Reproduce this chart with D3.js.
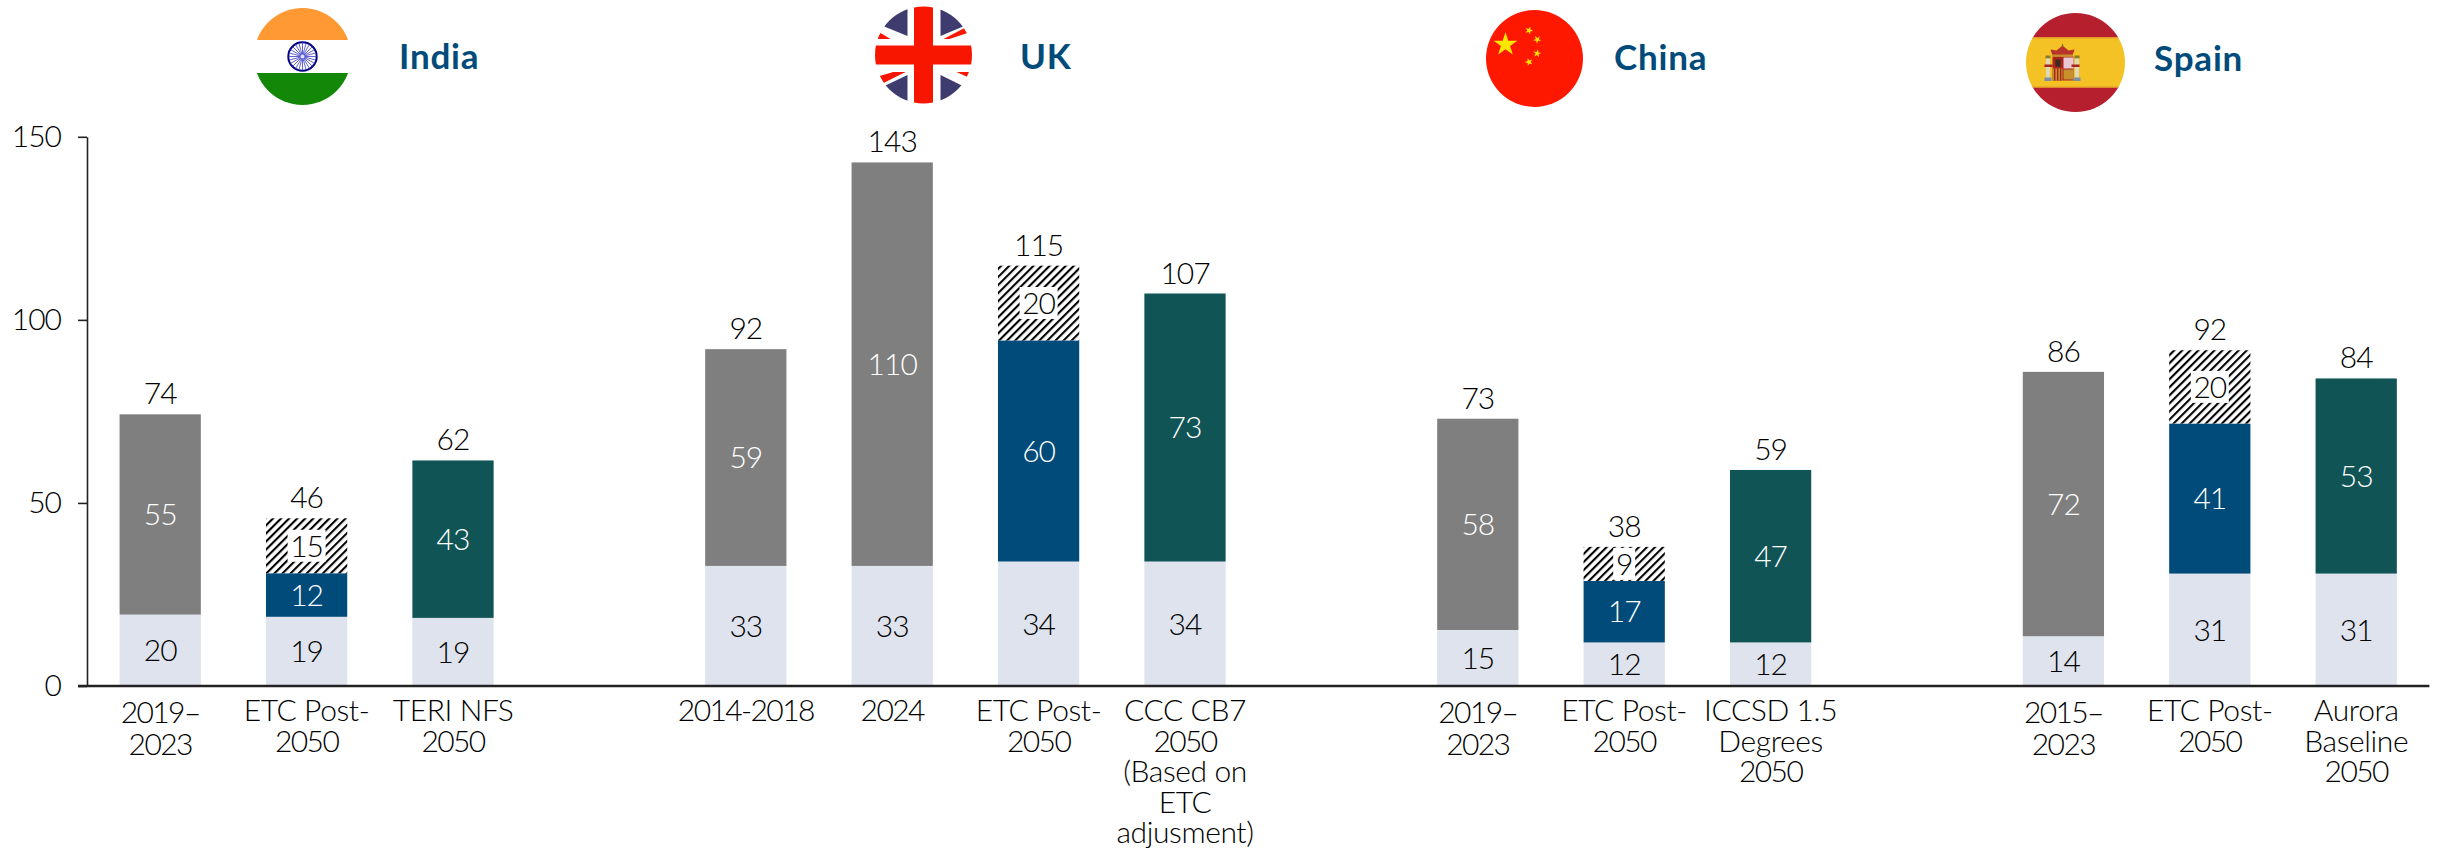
<!DOCTYPE html>
<html><head><meta charset="utf-8">
<script src="https://cdn.jsdelivr.net/npm/d3@7"></script>
<style>
html,body{margin:0;padding:0;background:#fff;overflow:hidden}
text{font-family:Lato,"Open Sans",sans-serif;font-weight:300}
</style></head><body><svg id="c" width="2446" height="851"></svg>
<script>
// ---- data ----
const slots = ["IN1","IN2","IN3","gapA","UK1","UK2","UK3","UK4","gapB","CN1","CN2","CN3","gapC","ES1","ES2","ES3"];
const categoryKeys = ["IN1","IN2","IN3","UK1","UK2","UK3","UK4","CN1","CN2","CN3","ES1","ES2","ES3"];
const categoryLabels = [["2019–","2023"],["ETC Post-","2050"],["TERI NFS","2050"],["2014-2018"],["2024"],["ETC Post-","2050"],["CCC CB7","2050","(Based on","ETC","adjusment)"],["2019–","2023"],["ETC Post-","2050"],["ICCSD 1.5","Degrees","2050"],["2015–","2023"],["ETC Post-","2050"],["Aurora","Baseline","2050"]];
const baseline   = [19.5,18.9,18.6,32.8,32.8,34.0,34.0,15.3,11.9,11.9,13.6,30.7,30.7];
const historic   = [54.7,0,0,59.2,110.2,0,0,57.7,0,0,72.2,0,0];
const etcCentral = [0,11.9,0,0,0,60.4,0,0,16.8,0,0,41.0,0];
const otherScen  = [0,0,43.0,0,0,0,73.2,0,0,47.1,0,0,53.3];
const etcUpper   = [0,15.0,0,0,0,20.4,0,0,9.3,0,0,20.0,0];
const yTicks = [0,50,100,150];
const countries = ["India","UK","China","Spain"];

const seriesKeys = ["baseline","historic","etcCentral","otherScen","etcUpper"];
const seriesCol = {baseline:"#DEE3EE",historic:"#7F7F7F",etcCentral:"#004B7A",otherScen:"#105456",etcUpper:"url(#hatch)"};
const labelCol = {baseline:"#000",historic:"#fff",etcCentral:"#fff",otherScen:"#fff",etcUpper:"#000"};
const rows = categoryKeys.map((k,i)=>({key:k,baseline:baseline[i],historic:historic[i],etcCentral:etcCentral[i],otherScen:otherScen[i],etcUpper:etcUpper[i]}));

const svg = d3.select("#c");
const defs = svg.append("defs");
const pat = defs.append("pattern").attr("id","hatch").attr("patternUnits","userSpaceOnUse")
  .attr("width",5.7).attr("height",5.7).attr("patternTransform","rotate(45)");
pat.append("rect").attr("width",5.7).attr("height",5.7).attr("fill","#fff");
pat.append("rect").attr("width",2.1).attr("height",5.7).attr("fill","#000");

const x = d3.scaleBand().domain(slots).range([87,2429.4]).paddingInner(0.445).paddingOuter(0.2225);
const y = d3.scaleLinear().domain([0,150]).range([686,136.8]);
const fs = 30;
const fmt = d3.format(".0f");

const stacked = d3.stack().keys(seriesKeys)(rows);
const gBars = svg.append("g");
stacked.forEach(s=>{
  gBars.selectAll(null).data(s.filter(d=>d[1]-d[0]>0)).join("rect")
    .attr("x",d=>x(d.data.key)).attr("width",x.bandwidth())
    .attr("y",d=>y(d[1])).attr("height",d=>y(d[0])-y(d[1]))
    .attr("fill",seriesCol[s.key]);
});
// value labels
stacked.forEach(s=>{
  const g = svg.append("g");
  const dd = s.filter(d=>d[1]-d[0]>0);
  if(s.key==="etcUpper"){
    g.selectAll("rect").data(dd).join("rect")
      .attr("width",d=>fmt(d[1]-d[0]).length*16+6)
      .attr("x",d=>x(d.data.key)+x.bandwidth()/2-(fmt(d[1]-d[0]).length*16+6)/2)
      .attr("y",d=>y((d[0]+d[1])/2)-16).attr("height",32).attr("fill","#fff");
  }
  g.selectAll("text").data(dd).join("text")
    .attr("x",d=>x(d.data.key)+x.bandwidth()/2).attr("y",d=>y((d[0]+d[1])/2))
    .attr("dy","0.36em").attr("text-anchor","middle").attr("font-size",fs).attr("fill",labelCol[s.key])
    .attr("letter-spacing",-1).text(d=>fmt(d[1]-d[0]));
});
// totals
const topSeries = stacked[stacked.length-1];
svg.append("g").selectAll("text").data(topSeries).join("text")
  .attr("x",d=>x(d.data.key)+x.bandwidth()/2).attr("y",d=>y(d[1])-10)
  .attr("text-anchor","middle").attr("font-size",fs).attr("fill","#000")
  .attr("letter-spacing",-1).text(d=>fmt(d[1]));

// axes
const yAxis = d3.axisLeft(y).tickValues(yTicks).tickSize(9).tickPadding(17).tickSizeOuter(0);
const gy = svg.append("g").attr("transform","translate(87,0)").call(yAxis);
gy.attr("font-family",null);
gy.selectAll("text").attr("font-size",fs).attr("fill","#000").attr("letter-spacing",-1);
gy.selectAll("path,line").attr("stroke","#222").attr("stroke-width",1.6);

const labelByKey = new Map(categoryKeys.map((k,i)=>[k,categoryLabels[i]]));
const xAxis = d3.axisBottom(x).tickValues(categoryKeys).tickSize(0).tickPadding(0).tickFormat("");
const gx = svg.append("g").attr("transform","translate(0,686)").call(xAxis);
gx.attr("font-family",null);
gx.select(".domain").attr("d","M78,0H2429.4").attr("stroke","#222").attr("stroke-width",2.6);
gx.selectAll(".tick text").attr("font-size",fs).attr("fill","#000").attr("y",0).attr("dy",0)
 .each(function(k){
   const t=d3.select(this);
   const lines=labelByKey.get(k);
   const shift=lines[0].endsWith("–")?2:0;
   lines.forEach((ln,i)=>t.append("tspan").attr("x",0).attr("y",35+shift+i*(30.5+shift/2))
     .attr("letter-spacing",/^[\d\-–]+$/.test(ln)?-1.6:-0.4).text(ln));
 });

// country heads
const heads = [
 {name:"India",cx:302.5,cy:56.5,r:48.5,tx:399,ty:69},
 {name:"UK",cx:923.5,cy:55,r:48.5,tx:1020,ty:69},
 {name:"China",cx:1534.5,cy:58.5,r:48.5,tx:1614,ty:70},
 {name:"Spain",cx:2075.5,cy:62.5,r:49.5,tx:2154,ty:71}];
heads.forEach((h,i)=>{
  svg.append("text").attr("x",h.tx).attr("y",h.ty).attr("font-size",35).attr("letter-spacing",0.8).attr("fill","#004B7A")
    .style("font-weight",700).text(countries[i]);
  defs.append("clipPath").attr("id","cl"+i).append("circle").attr("r",h.r);
  const f = svg.append("g").attr("transform",`translate(${h.cx},${h.cy})`).append("g").attr("clip-path",`url(#cl${i})`);
  const R=(x0,y0,w,h2,c)=>f.append("rect").attr("x",x0).attr("y",y0).attr("width",w).attr("height",h2).attr("fill",c);
  const P=(d,c)=>f.append("path").attr("d",d).attr("fill",c);
  if(h.name==="India"){
    R(-50,-50,100,33.5,"#FF9933");R(-50,-16.5,100,33,"#fff");R(-50,16.5,100,33,"#138808");
    f.append("circle").attr("r",14.2).attr("fill","#fff").attr("stroke","#000080").attr("stroke-width",2);
    d3.range(24).forEach(k=>{const a=k*Math.PI/12;f.append("line").attr("x2",14*Math.cos(a)).attr("y2",14*Math.sin(a)).attr("stroke","#3b3bc8").attr("stroke-width",.8);});
    f.append("circle").attr("r",2).attr("fill","#dfe0fa");
  }
  if(h.name==="UK"){
    R(-50,-50,100,100,"#fff");
    const navy="#3E3B6E", red="#F91600";
    P("M-16,-19V-60H-60V-37Z",navy);
    P("M17,-19V-60H60V-37Z",navy);
    P("M-16,20V60H-60V41Z",navy);
    P("M17,20V60H60V41Z",navy);
    P("M-43,-22L-33,-16H-50V-26Z",red);
    P("M20,-16L41,-27L44,-22L26,-16Z",red);
    P("M-43,23L-18,17H-30L-44,21Z",red);
    P("M-43,23L-40,28L-18,17H-30Z",red);
    P("M33,17H50V24L44,22Z",red);
    R(-50,-9.5,100,19,red);R(-9.5,-50,19,100,red);
  }
  if(h.name==="China"){
    R(-50,-50,100,100,"#FF1800");
    const star=(sx,sy,s,rot)=>f.append("path").attr("d",d3.symbol(d3.symbolStar,s)()).attr("transform",`translate(${sx},${sy}) rotate(${rot})`).attr("fill","#FFE600");
    star(-29,-14,175,0);star(-5.5,-28,20,20);star(2.7,-19,20,40);star(2.7,-5,20,10);star(-5.5,3.5,20,-20);
  }
  if(h.name==="Spain"){
    R(-50,-50,100,25,"#B51F2E");R(-50,-25,100,49.5,"#F4C224");R(-50,24.5,100,26,"#B51F2E");
    R(-50,-25.5,100,1.4,"#E2962E");R(-50,24,100,1.4,"#E2962E");
    // crest
    R(-23,-6,21,24,"#A8251F");
    R(-12,-5,10,11,"#E9C8D2");
    R(-23,6,10,12,"#C8902A");
    d3.range(3).forEach(k=>R(-21.5+k*3,6,1.4,12,"#A8251F"));
    R(-12,7,10,10,"#C8902A");
    R(-20,-3,5,7,"#3a2a20");
    P("M-23,-7L-25,-13L-19,-12L-13,-17L-7,-12L-1,-13L-3,-7Z","#B8332A");
    R(-23.5,-8,21,2,"#C8902A");
    R(-13.6,-18.5,1.2,3,"#8a6a20");
    // pillars
    R(-30,-7,5,3,"#8a7a25");R(-1,-7,5,3,"#8a7a25");
    R(-29.5,-4,4,19,"#DDD8BC");R(-0.5,-4,4,19,"#DDD8BC");
    R(-31,15,7,3.5,"#7C8FA8");R(-2,15,7,3.5,"#7C8FA8");
    R(-31,2,8,2.5,"#A8251F");R(-4,2,8,2.5,"#A8251F");
  }
});
</script></body></html>
